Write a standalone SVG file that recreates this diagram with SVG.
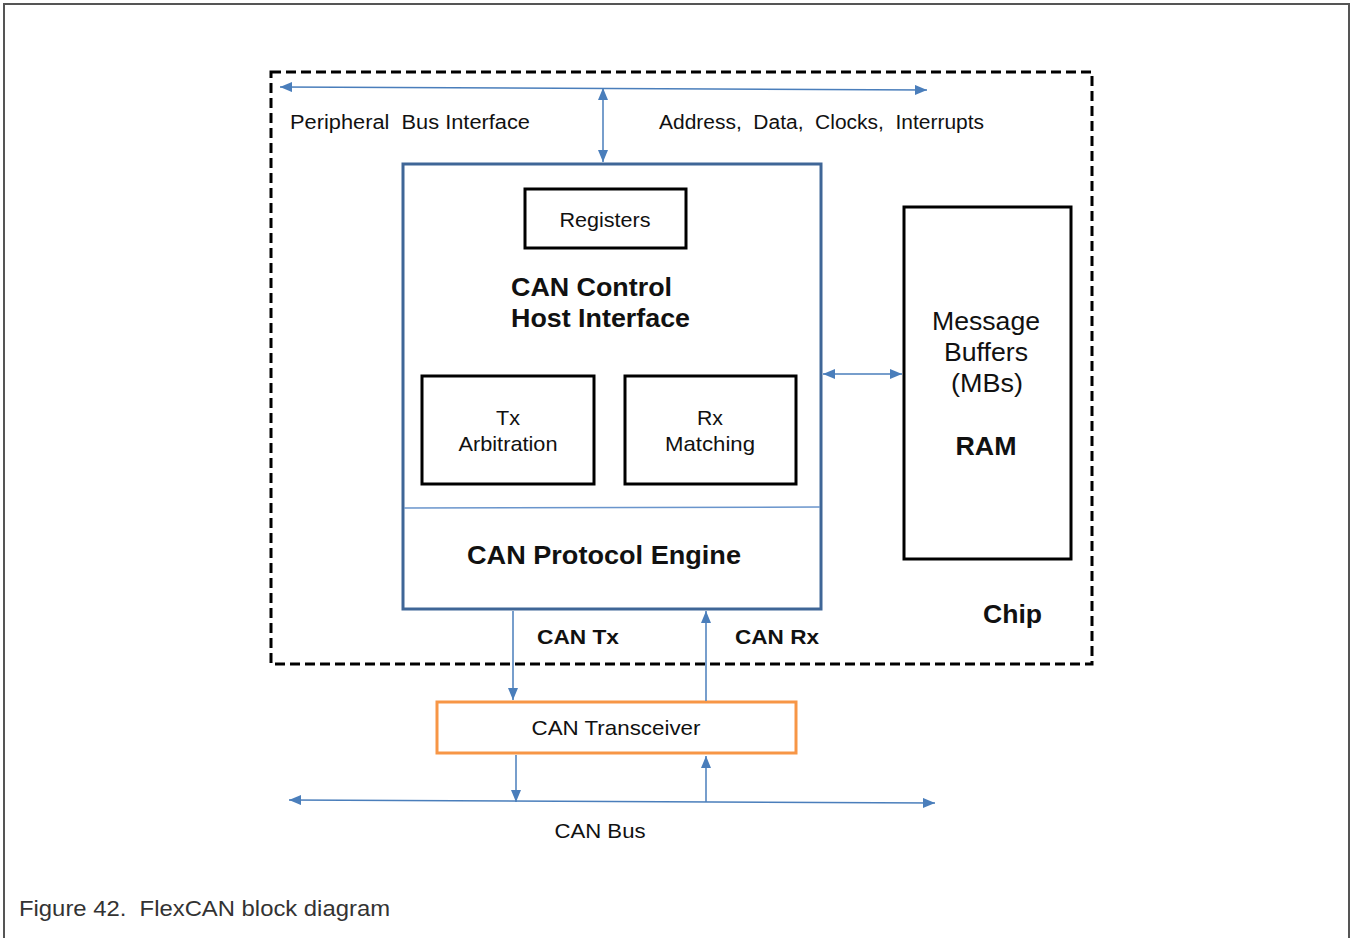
<svg xmlns="http://www.w3.org/2000/svg" width="1352" height="938" viewBox="0 0 1352 938">
<defs>
<marker id="ah" viewBox="0 0 12 10" refX="12" refY="5" markerWidth="12" markerHeight="10" markerUnits="userSpaceOnUse" orient="auto-start-reverse">
<path d="M0,0 L12,5 L0,10 z" fill="#4A7EBB"/>
</marker>
<style>
.t{font-family:"Liberation Sans",Arial,sans-serif;fill:#111;}
.b{font-weight:bold;}
.blk{fill:#fff;stroke:#000;stroke-width:3;}
.conn{stroke:#4A7EBB;stroke-width:1.5;fill:none;}
</style>
</defs>
<rect x="0" y="0" width="1352" height="938" fill="#fff"/>
<rect x="4" y="4" width="1345" height="940" fill="none" stroke="#555" stroke-width="2"/>
<g id="chip">
<rect x="271" y="72" width="821" height="592" fill="none" stroke="#000" stroke-width="3" stroke-dasharray="10,5"/>
<text class="t b" x="983" y="623" font-size="26" textLength="59" lengthAdjust="spacingAndGlyphs">Chip</text>
</g>
<g id="host">
<rect x="403" y="164" width="418" height="445" fill="#fff" stroke="#3F6697" stroke-width="3"/>
<line x1="404" y1="508" x2="820" y2="507" stroke="#6A95CC" stroke-width="1.5"/>
<text class="t b" x="511" y="296" font-size="26" textLength="161" lengthAdjust="spacingAndGlyphs">CAN Control</text>
<text class="t b" x="511" y="327" font-size="26" textLength="179" lengthAdjust="spacingAndGlyphs">Host Interface</text>
<text class="t b" x="604" y="564" font-size="26" text-anchor="middle" textLength="274" lengthAdjust="spacingAndGlyphs">CAN Protocol Engine</text>
</g>
<g id="registers">
<rect class="blk" x="525" y="189" width="161" height="59"/>
<text class="t" x="605" y="227" font-size="21" text-anchor="middle" textLength="91" lengthAdjust="spacingAndGlyphs">Registers</text>
</g>
<g id="tx">
<rect class="blk" x="422" y="376" width="172" height="108"/>
<text class="t" x="508" y="425" font-size="21" text-anchor="middle" textLength="24" lengthAdjust="spacingAndGlyphs">Tx</text>
<text class="t" x="508" y="451" font-size="21" text-anchor="middle" textLength="99" lengthAdjust="spacingAndGlyphs">Arbitration</text>
</g>
<g id="rx">
<rect class="blk" x="625" y="376" width="171" height="108"/>
<text class="t" x="710" y="425" font-size="21" text-anchor="middle" textLength="26" lengthAdjust="spacingAndGlyphs">Rx</text>
<text class="t" x="710" y="451" font-size="21" text-anchor="middle" textLength="90" lengthAdjust="spacingAndGlyphs">Matching</text>
</g>
<g id="ram">
<rect class="blk" x="904" y="207" width="167" height="352"/>
<text class="t" x="986" y="330" font-size="26" text-anchor="middle" textLength="108" lengthAdjust="spacingAndGlyphs">Message</text>
<text class="t" x="986" y="361" font-size="26" text-anchor="middle" textLength="84" lengthAdjust="spacingAndGlyphs">Buffers</text>
<text class="t" x="987" y="392" font-size="26" text-anchor="middle" textLength="72" lengthAdjust="spacingAndGlyphs">(MBs)</text>
<text class="t b" x="986" y="455" font-size="26" text-anchor="middle" textLength="61" lengthAdjust="spacingAndGlyphs">RAM</text>
</g>
<g id="transceiver">
<rect x="437" y="702" width="359" height="51" fill="#fff" stroke="#F79646" stroke-width="3"/>
<text class="t" x="616" y="735" font-size="21" text-anchor="middle" textLength="169" lengthAdjust="spacingAndGlyphs">CAN Transceiver</text>
</g>
<g id="connectors">
<line class="conn" x1="280" y1="87" x2="927" y2="90" marker-start="url(#ah)" marker-end="url(#ah)"/>
<line class="conn" x1="603" y1="88" x2="603" y2="162" marker-start="url(#ah)" marker-end="url(#ah)"/>
<line class="conn" x1="823" y1="374" x2="902" y2="374" marker-start="url(#ah)" marker-end="url(#ah)"/>
<line class="conn" x1="513" y1="611" x2="513" y2="700" marker-end="url(#ah)"/>
<line class="conn" x1="706" y1="701" x2="706" y2="611" marker-end="url(#ah)"/>
<line class="conn" x1="516" y1="755" x2="516" y2="802" marker-end="url(#ah)"/>
<line class="conn" x1="706" y1="802" x2="706" y2="756" marker-end="url(#ah)"/>
<line class="conn" x1="289" y1="800" x2="935" y2="803" marker-start="url(#ah)" marker-end="url(#ah)"/>
</g>
<g id="labels">
<text class="t" x="290" y="129" font-size="20" xml:space="preserve" textLength="240" lengthAdjust="spacingAndGlyphs">Peripheral  Bus Interface</text>
<text class="t" x="659" y="129" font-size="20" xml:space="preserve" textLength="325" lengthAdjust="spacingAndGlyphs">Address,  Data,  Clocks,  Interrupts</text>
<text class="t b" x="537" y="644" font-size="21" textLength="82" lengthAdjust="spacingAndGlyphs">CAN Tx</text>
<text class="t b" x="735" y="644" font-size="21" textLength="84" lengthAdjust="spacingAndGlyphs">CAN Rx</text>
<text class="t" x="600" y="838" font-size="21" text-anchor="middle" textLength="91" lengthAdjust="spacingAndGlyphs">CAN Bus</text>
<text x="19" y="916" font-size="22" font-family="Liberation Sans, Arial, sans-serif" fill="#333" xml:space="preserve" textLength="371" lengthAdjust="spacingAndGlyphs">Figure 42.  FlexCAN block diagram</text>
</g>
</svg>
